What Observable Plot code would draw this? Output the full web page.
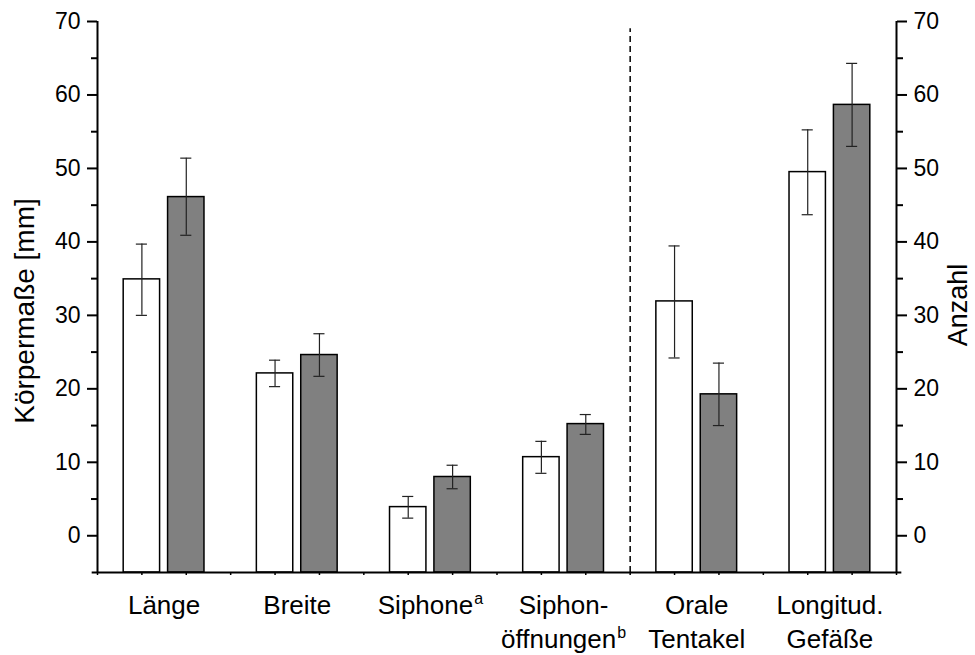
<!DOCTYPE html>
<html><head><meta charset="utf-8">
<script src="https://cdn.jsdelivr.net/npm/d3@7"></script>
<script src="https://cdn.jsdelivr.net/npm/@observablehq/plot@0.6"></script>
<style>body{margin:0;background:#fff}</style>
</head><body><div id="chart"></div>
<script>
const categories = [["Länge"],["Breite"],["Siphone"],["Siphon-","öffnungen"],["Orale","Tentakel"],["Longitud.","Gefäße"]];
const superscripts = ["","","a","b","",""];
const whiteValues = [34.9, 22.1, 3.9, 10.7, 31.9, 49.5];
const whiteLow    = [30.0, 20.3, 2.4, 8.5, 24.2, 43.7];
const whiteHigh   = [39.7, 23.9, 5.35, 12.85, 39.45, 55.25];
const grayValues  = [46.1, 24.6, 8.0, 15.2, 19.25, 58.65];
const grayLow     = [40.9, 21.7, 6.4, 13.8, 15.0, 53.0];
const grayHigh    = [51.4, 27.5, 9.6, 16.5, 23.5, 64.3];
const yTicks = [0,10,20,30,40,50,60,70];
const yMinorTicks = [5,15,25,35,45,55,65];
const yLabel = "Körpermaße [mm]";
const y2Label = "Anzahl";

const FONT = "'Liberation Sans', Arial, sans-serif";
const groupPos = i => 3 * i;
const whiteRows = whiteValues.map((v, i) => ({x: groupPos(i) + 1, value: v, lo: whiteLow[i], hi: whiteHigh[i]}));
const grayRows = grayValues.map((v, i) => ({x: groupPos(i) + 2, value: v, lo: grayLow[i], hi: grayHigh[i]}));
const allRows = whiteRows.concat(grayRows);
const half = 0.41, cap = 0.125;

const chart = Plot.plot({
  width: 975,
  height: 655,
  marginLeft: 97,
  marginRight: 79,
  marginTop: 21,
  marginBottom: 83,
  style: {fontFamily: FONT, fontSize: "22px", color: "black", background: "white"},
  x: {domain: [0, 18]},
  y: {domain: [-5, 70]},
  marks: [
    Plot.rectY(whiteRows, {x1: d => d.x - half, x2: d => d.x + half, y1: -5, y2: "value", fill: "white", stroke: "black", strokeWidth: 1.5}),
    Plot.rectY(grayRows, {x1: d => d.x - half, x2: d => d.x + half, y1: -5, y2: "value", fill: "#808080", stroke: "black", strokeWidth: 1.5}),
    Plot.ruleX(allRows, {x: "x", y1: "lo", y2: "hi", stroke: "#222", strokeWidth: 1.2}),
    Plot.ruleY(allRows, {y: "hi", x1: d => d.x - cap, x2: d => d.x + cap, stroke: "#222", strokeWidth: 1.2}),
    Plot.ruleY(allRows, {y: "lo", x1: d => d.x - cap, x2: d => d.x + cap, stroke: "#222", strokeWidth: 1.2}),
    Plot.ruleX([groupPos(4)], {y1: -5, y2: 69, stroke: "black", strokeWidth: 1.5, strokeDasharray: "6,4"}),
    Plot.ruleX([0, 18], {y1: -5, y2: 70, stroke: "black", strokeWidth: 2}),
    Plot.ruleY([-5], {x1: -0.12, x2: 18.12, stroke: "black", strokeWidth: 2}),
    Plot.axisY({ticks: yTicks, anchor: "left", tickSize: 10, tickPadding: 7, fontSize: 23, strokeWidth: 2, label: null}),
    Plot.axisY({ticks: yMinorTicks, anchor: "left", tickSize: 6, tickFormat: () => "", strokeWidth: 2, label: null}),
    Plot.axisY({ticks: yTicks, anchor: "right", tickSize: 10, tickPadding: 7, fontSize: 23, strokeWidth: 2, label: null}),
    Plot.axisY({ticks: yMinorTicks, anchor: "right", tickSize: 6, tickFormat: () => "", strokeWidth: 2, label: null}),
    Plot.axisX({ticks: d3.range(0, 19), tickSize: 3, tickFormat: () => "", strokeWidth: 1.5, label: null}),
    Plot.text(categories, {x: (d, i) => groupPos(i) + 1.5, y: -5, text: d => d.join("\n"), lineAnchor: "top", lineHeight: 1.31, dy: 17, fontSize: 26, fill: "black"}),
    Plot.text([yLabel], {frameAnchor: "left", textAnchor: "middle", lineAnchor: "middle", dx: -72, dy: 14, rotate: -90, fontSize: 28, fill: "black"}),
    Plot.text([y2Label], {frameAnchor: "right", textAnchor: "middle", lineAnchor: "middle", dx: 62, dy: 8, rotate: -90, fontSize: 27, fill: "black"})
  ]
});

// superscripts on category labels
const labelTexts = categories.map(d => d.join(""));
chart.querySelectorAll("text").forEach(t => {
  const idx = labelTexts.indexOf(t.textContent);
  if (idx < 0 || !superscripts[idx]) return;
  const spans = t.querySelectorAll("tspan");
  const host = spans.length ? spans[spans.length - 1] : t;
  const sup = document.createElementNS("http://www.w3.org/2000/svg", "tspan");
  sup.setAttribute("font-size", "16");
  sup.setAttribute("dy", "-10");
  sup.setAttribute("dx", "1");
  sup.textContent = superscripts[idx];
  host.appendChild(sup);
});

document.getElementById("chart").appendChild(chart);
</script>
</body></html>
